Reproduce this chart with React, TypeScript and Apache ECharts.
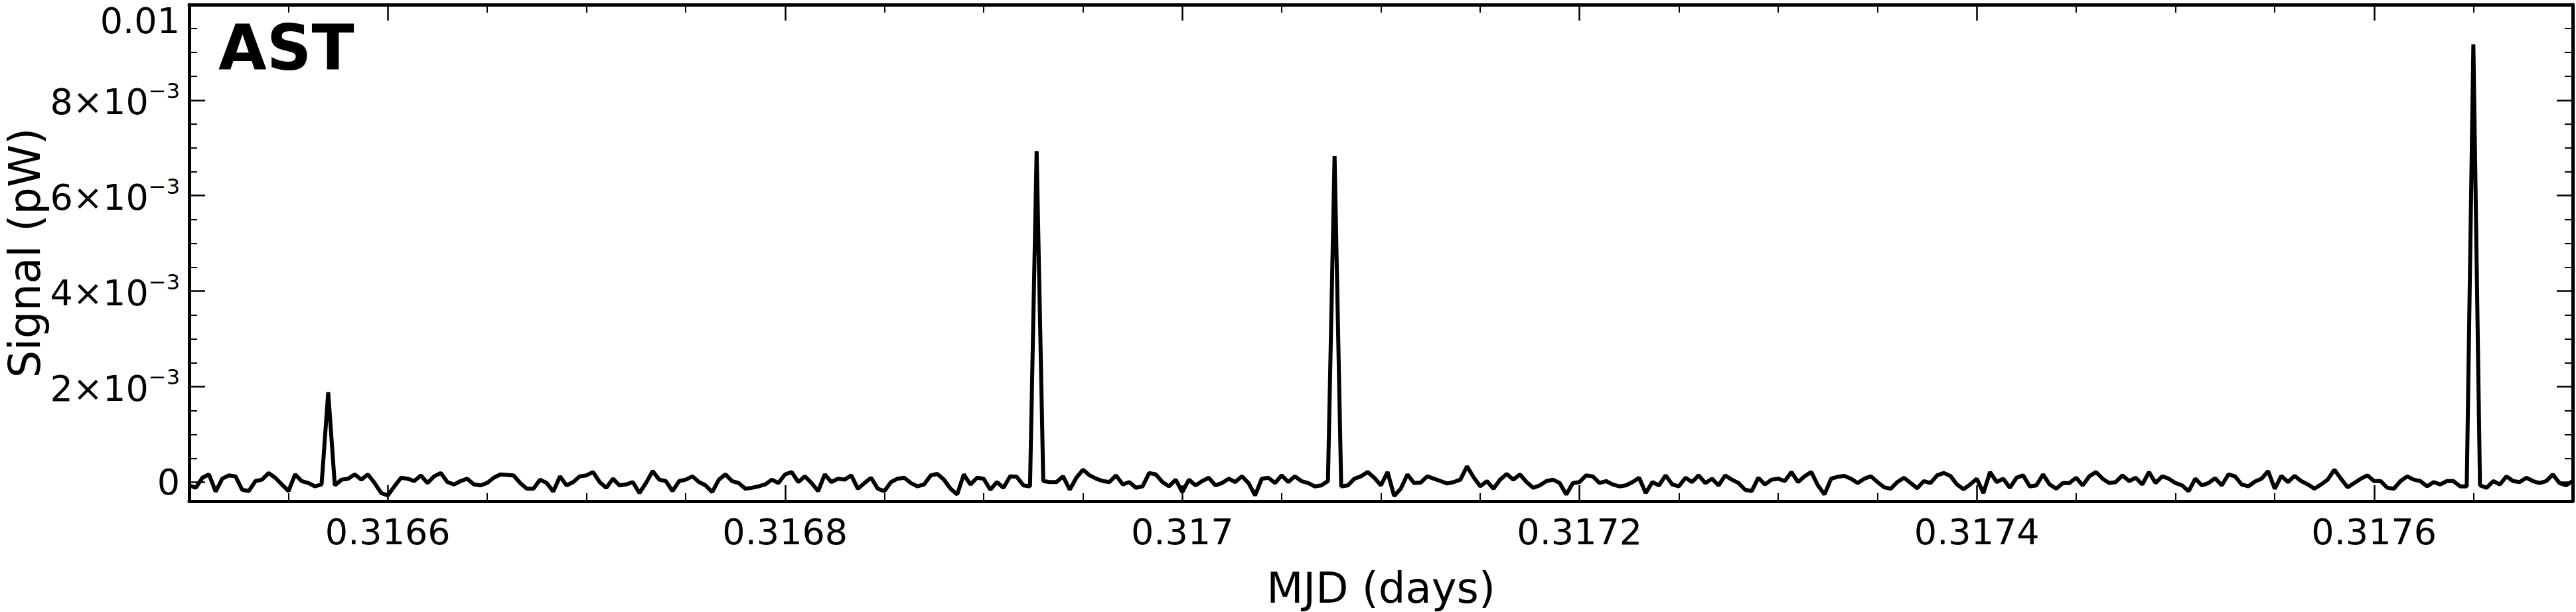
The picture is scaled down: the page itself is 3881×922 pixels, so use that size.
import React, { useEffect, useRef } from "react";
import * as echarts from "echarts";

// Axis ranges (MJD days, signal in units of 1e-3 pW)
const xMin = 0.3165;
const xMax = 0.3177;
const xTickStep = 0.0002;
const yMin = -0.4;
const yMax = 10;
const yTickStep = 2;

// Sampling of the time stream (uniform cadence)
const sampleStart = 0.3165;
const sampleStep = 0.0012 / 360;

// Signal, in units of 1e-3 pW, one value per sample
const signalE3: number[] = [
  // 0.31650 - 0.31670
  -0.07, -0.12, 0.09, 0.16, -0.2, 0.07, 0.14, 0.12, -0.16, -0.19,
  0.02, 0.05, 0.19, 0.09, -0.05, -0.19, 0.16, 0.02, -0.02, -0.09,
  -0.05, 1.88, -0.07, 0.05, 0.07, 0.16, 0.05, 0.16, -0.02, -0.23,
  -0.28, -0.09, 0.09, 0.07, 0.02, 0.14, -0.02, 0.12, 0.19, 0,
  -0.05, 0.02, 0.07, -0.05, -0.07, -0.02, 0.09, 0.16, 0.15, 0.14,
  -0.02, -0.14, -0.14, 0.05, -0.02, -0.2, 0.12, -0.07, 0, 0.12,
  // 0.31670 - 0.31690
  0.14, 0.21, 0, -0.12, 0.07, -0.07, -0.05, 0, -0.23, -0.02,
  0.23, 0.05, 0.02, -0.19, 0.02, 0.05, 0.12, 0, -0.07, -0.21,
  0.05, 0.16, 0.02, -0.02, -0.14, -0.12, -0.09, -0.05, 0.05, -0.02,
  0.16, 0.21, 0, 0.12, -0.02, -0.19, 0.16, 0, 0.07, 0.05,
  0.14, -0.14, -0.02, 0.09, -0.14, -0.19, 0, 0.07, 0.09, -0.02,
  -0.09, -0.05, 0.14, 0.17, 0.05, -0.14, -0.26, 0.16, -0.05, 0.09,
  // 0.31690 - 0.31710
  0.07, -0.16, 0, -0.12, 0.12, 0.11, -0.07, -0.09, 6.93, 0.02,
  0, 0, 0.12, -0.16, 0.09, 0.26, 0.14, 0.07, 0.02, 0,
  0.14, -0.05, 0, -0.12, -0.09, 0.19, 0.16, 0, -0.09, 0.05,
  -0.21, 0.05, -0.07, 0.02, 0.09, -0.07, -0.02, 0.07, 0, 0.12,
  -0.02, -0.28, 0.07, 0.09, -0.02, 0.14, 0, 0.12, 0.02, -0.02,
  -0.09, -0.07, 0.02, 6.83, -0.09, -0.07, 0.07, 0.12, 0.21, 0.09,
  // 0.31710 - 0.31730
  -0.07, 0.21, -0.29, -0.14, 0.16, -0.02, -0.01, 0.12, 0.07, 0.02,
  -0.03, 0, 0.05, 0.33, 0.1, -0.09, 0.02, -0.14, 0.05, 0.17,
  0.05, 0.16, 0, -0.12, -0.07, 0.02, 0.05, -0.02, -0.26, -0.02,
  0, 0.14, 0.12, -0.02, 0.02, -0.05, -0.09, -0.07, 0, 0.09,
  -0.23, 0, -0.07, 0.14, -0.05, -0.09, 0.09, 0, 0.14, -0.02,
  0.07, -0.07, 0.14, 0.05, -0.02, -0.16, -0.19, 0.09, -0.05, 0.05,
  0.07,
  // 0.31730 - 0.31750
  0.02, 0.21, 0, 0.12, 0.21, -0.07, -0.26, 0.07, 0.11, 0.13,
  0.07, -0.02, 0.07, 0.12, 0, -0.11, -0.14, 0, 0.09, -0.02,
  -0.13, 0.02, -0.02, 0.14, 0.19, 0.13, -0.05, -0.15, -0.05, 0.07,
  -0.23, 0.21, 0, 0.07, -0.12, 0.09, 0.14, -0.09, -0.07, 0.16,
  -0.05, -0.14, -0.02, -0.02, 0.09, -0.07, 0.12, 0.21, 0.07, -0.02,
  0, 0.14, 0.02, 0.09, -0.05, 0.21, -0.02, 0.12, 0.07, -0.02,
  // 0.31750 - 0.31770
  -0.07, -0.19, 0.07, -0.07, -0.02, 0.08, -0.07, 0.16, 0.12, -0.05,
  -0.09, 0.01, 0.07, 0.23, -0.14, 0.13, 0, 0.13, 0.02, -0.05,
  -0.14, -0.05, 0.05, 0.26, 0.07, -0.11, -0.02, 0.07, 0.14, 0.02,
  0.02, -0.12, -0.14, 0.02, 0.12, 0.05, 0.02, -0.09, 0, -0.05,
  0.02, 0.02, -0.09, -0.09, 9.17, -0.07, -0.12, 0.02, -0.05, 0.12,
  0.02, 0, 0.09, 0.02, -0.02, 0.02, 0.16, -0.02, -0.07, 0.02,
];

const xAxisTitle = "MJD (days)";
const yAxisTitle = "Signal (pW)";
const panelLabel = "AST";

const FONT = "DejaVu Sans";
const BLACK = "#000000";

function yLabel(v: number): string {
  const n = Math.round(v);
  if (Math.abs(v - n) > 1e-6) return "";
  if (n === 0) return "0";
  if (n === 10) return "{top|0.01}";
  return `{m|${n}×10}{s|−3}`;
}

export default function App() {
  const ref = useRef<HTMLDivElement>(null);

  useEffect(() => {
    if (!ref.current) return;
    const chart = echarts.init(ref.current, null, {
      renderer: "svg",
      width: 3881,
      height: 922,
    });

    const seriesData = signalE3.map((v, i) => [sampleStart + i * sampleStep, v]);

    const axisLine = { show: true, onZero: false, lineStyle: { color: BLACK, width: 5 } };
    const axisTick = { show: true, inside: true, length: 24, lineStyle: { color: BLACK, width: 2.5 } };
    const minorTick = { show: true, splitNumber: 4, length: 12, lineStyle: { color: BLACK, width: 2 } };

    const xCommon = {
      type: "value" as const,
      min: xMin,
      max: xMax,
      minInterval: xTickStep,
      maxInterval: xTickStep,
      splitNumber: 6,
      axisLine,
      axisTick,
      minorTick,
      splitLine: { show: false },
      minorSplitLine: { show: false },
    };
    const yCommon = {
      type: "value" as const,
      min: yMin,
      max: yMax,
      minInterval: yTickStep,
      maxInterval: yTickStep,
      splitNumber: 5,
      axisLine,
      axisTick,
      minorTick,
      splitLine: { show: false },
      minorSplitLine: { show: false },
    };

    chart.setOption({
      animation: false,
      backgroundColor: "#ffffff",
      grid: {
        left: 285,
        right: 5,
        top: 7,
        bottom: 167,
        containLabel: false,
        outerBoundsMode: "none",
      },
      xAxis: [
        {
          ...xCommon,
          position: "bottom",
          axisLabel: {
            show: true,
            margin: 19,
            fontSize: 54,
            fontFamily: FONT,
            color: BLACK,
            showMinLabel: false,
            showMaxLabel: false,
          },
          name: xAxisTitle,
          nameLocation: "middle",
          nameGap: 99,
          nameMoveOverlap: false,
          nameTextStyle: { fontSize: 64, fontFamily: FONT, color: BLACK },
        },
        {
          ...xCommon,
          position: "top",
          axisLabel: { show: false },
        },
      ],
      yAxis: [
        {
          ...yCommon,
          position: "left",
          axisLabel: {
            show: true,
            margin: 14,
            fontSize: 54,
            fontFamily: FONT,
            color: BLACK,
            showMinLabel: false,
            showMaxLabel: true,
            formatter: yLabel,
            rich: {
              m: { fontSize: 54, fontFamily: FONT, color: BLACK, verticalAlign: "bottom" },
              s: { fontSize: 32, lineHeight: 60, fontFamily: FONT, color: BLACK, verticalAlign: "top" },
              top: { fontSize: 54, height: 62, lineHeight: 14, fontFamily: FONT, color: BLACK, verticalAlign: "top" },
            },
          },
          name: yAxisTitle,
          nameLocation: "middle",
          nameGap: 215,
          nameMoveOverlap: false,
          nameTextStyle: { fontSize: 65, fontFamily: FONT, color: BLACK },
        },
        {
          ...yCommon,
          position: "right",
          axisLabel: { show: false },
        },
      ],
      graphic: [
        {
          type: "text",
          left: 329,
          top: 25,
          style: {
            text: panelLabel,
            font: `bold 94px "${FONT}"`,
            fill: BLACK,
          },
        },
      ],
      series: [
        {
          type: "line",
          xAxisIndex: 0,
          yAxisIndex: 0,
          data: seriesData,
          showSymbol: false,
          symbol: "none",
          silent: true,
          lineStyle: { color: BLACK, width: 6, join: "bevel" },
          itemStyle: { color: BLACK },
        },
      ],
    });

    return () => chart.dispose();
  }, []);

  return (
    <div
      ref={ref}
      style={{ position: "absolute", left: 0, top: 0, width: 3881, height: 922, background: "#ffffff" }}
    />
  );
}
